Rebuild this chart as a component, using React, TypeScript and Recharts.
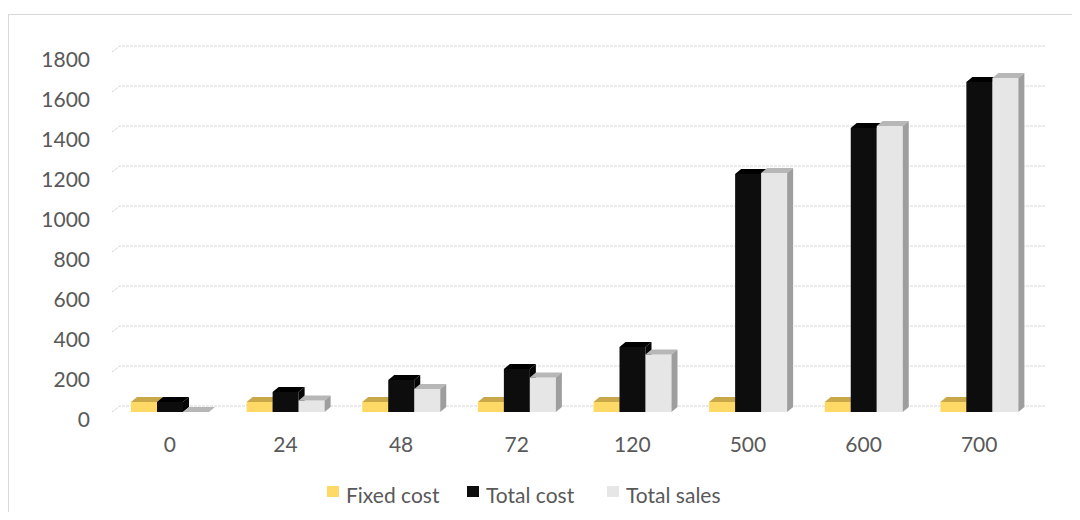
import React from 'react';
import { BarChart, Bar, XAxis, YAxis, CartesianGrid } from 'recharts';

const categories = ['0', '24', '48', '72', '120', '500', '600', '700'];
const fixedCost = [50, 50, 50, 50, 50, 50, 50, 50];
const totalCost = [50, 100, 160, 215, 325, 1190, 1420, 1650];
const totalSales = [0, 58, 115, 173, 288, 1195, 1430, 1670];
const yTicks = [0, 200, 400, 600, 800, 1000, 1200, 1400, 1600, 1800];

const data = categories.map((label, i) => ({
  label,
  fixed: fixedCost[i],
  cost: totalCost[i],
  sales: totalSales[i],
}));

const series = [
  { key: 'fixed', name: 'Fixed cost', front: '#FFD966', top: '#C9A84A', side: '#B39539', legendX: 319 },
  { key: 'cost', name: 'Total cost', front: '#0D0D0D', top: '#000000', side: '#050505', legendX: 459 },
  { key: 'sales', name: 'Total sales', front: '#E7E6E6', top: '#B7B7B7', side: '#9E9E9E', legendX: 599 },
];

// depth of the fake 3d extrusion
const DX = 6;
const DY = 5;
const TEXT = '#595959';
const FONT = 'Lato, Carlito, sans-serif';
const FS = 21;

function Box3D(props: any, s: typeof series[number]) {
  const { x, y, width, height } = props;
  if (x == null || y == null) return <g />;
  const w = width;
  const h = Math.max(height, 0);
  return (
    <g>
      <rect x={x} y={y} width={w} height={h} fill={s.front} />
      <path
        d={`M${x},${y} L${x + DX},${y - DY} L${x + w + DX},${y - DY} L${x + w},${y} Z`}
        fill={s.top}
      />
      <path
        d={`M${x + w},${y} L${x + w + DX},${y - DY} L${x + w + DX},${y + h - DY} L${x + w},${y + h} Z`}
        fill={s.side}
      />
    </g>
  );
}

// gridlines sit on the back wall, with a short slanted stub on the side wall
function WallLine(props: any) {
  const { x1, x2, y1 } = props;
  return (
    <path
      d={`M${x1},${y1} L${x1 + DX + 2},${y1 - DY - 1} L${x2 + DX + 2},${y1 - DY - 1}`}
      fill="none"
      stroke="#D6D6D6"
      strokeWidth={1}
      strokeDasharray="3 1"
    />
  );
}

function YTick(props: any) {
  const { x, y, payload } = props;
  return (
    <text x={x} y={y + 8} dy="0.355em" textAnchor="end" fill={TEXT} fontSize={FS} fontFamily={FONT}>
      {payload.value}
    </text>
  );
}

export default function App() {
  return (
    <div style={{ position: 'relative', width: 1072, height: 504, overflow: 'hidden', fontFamily: FONT }}>
      <div
        style={{
          position: 'absolute', left: 0, top: 6, width: 1200, height: 600,
          border: '1px solid #D9D9D9', boxSizing: 'border-box',
        }}
      />
      <BarChart
        width={1072}
        height={504}
        data={data}
        margin={{ top: 44, right: 43, left: 44, bottom: 70 }}
        barSize={26}
        barGap={0}
        style={{ position: 'absolute', left: 0, top: 0 }}
      >
        <CartesianGrid vertical={false} horizontal={(p: any) => <WallLine key={p.key} {...p} />} />
        <XAxis
          dataKey="label"
          axisLine={false}
          tickLine={false}
          tickSize={0}
          tickMargin={25}
          height={30}
          tick={{ fontSize: FS, fill: TEXT, fontFamily: FONT }}
        />
        <YAxis
          domain={[0, 1800]}
          ticks={yTicks}
          interval={0}
          axisLine={false}
          tickLine={false}
          tickSize={0}
          tickMargin={22}
          width={60}
          tick={<YTick />}
        />
        {series.map((s) => (
          <Bar
            key={s.key}
            dataKey={s.key}
            name={s.name}
            fill={s.front}
            isAnimationActive={false}
            shape={(p: any) => Box3D(p, s)}
          />
        ))}
      </BarChart>
      {series.map((s) => (
        <div
          key={s.key}
          style={{
            position: 'absolute', left: s.legendX, top: 474, display: 'flex', alignItems: 'center',
            fontSize: FS, color: TEXT, whiteSpace: 'nowrap',
          }}
        >
          <span style={{ display: 'inline-block', width: 12, height: 11, background: s.front, marginRight: 7, marginTop: -6 }} />
          <span>{s.name}</span>
        </div>
      ))}
    </div>
  );
}
